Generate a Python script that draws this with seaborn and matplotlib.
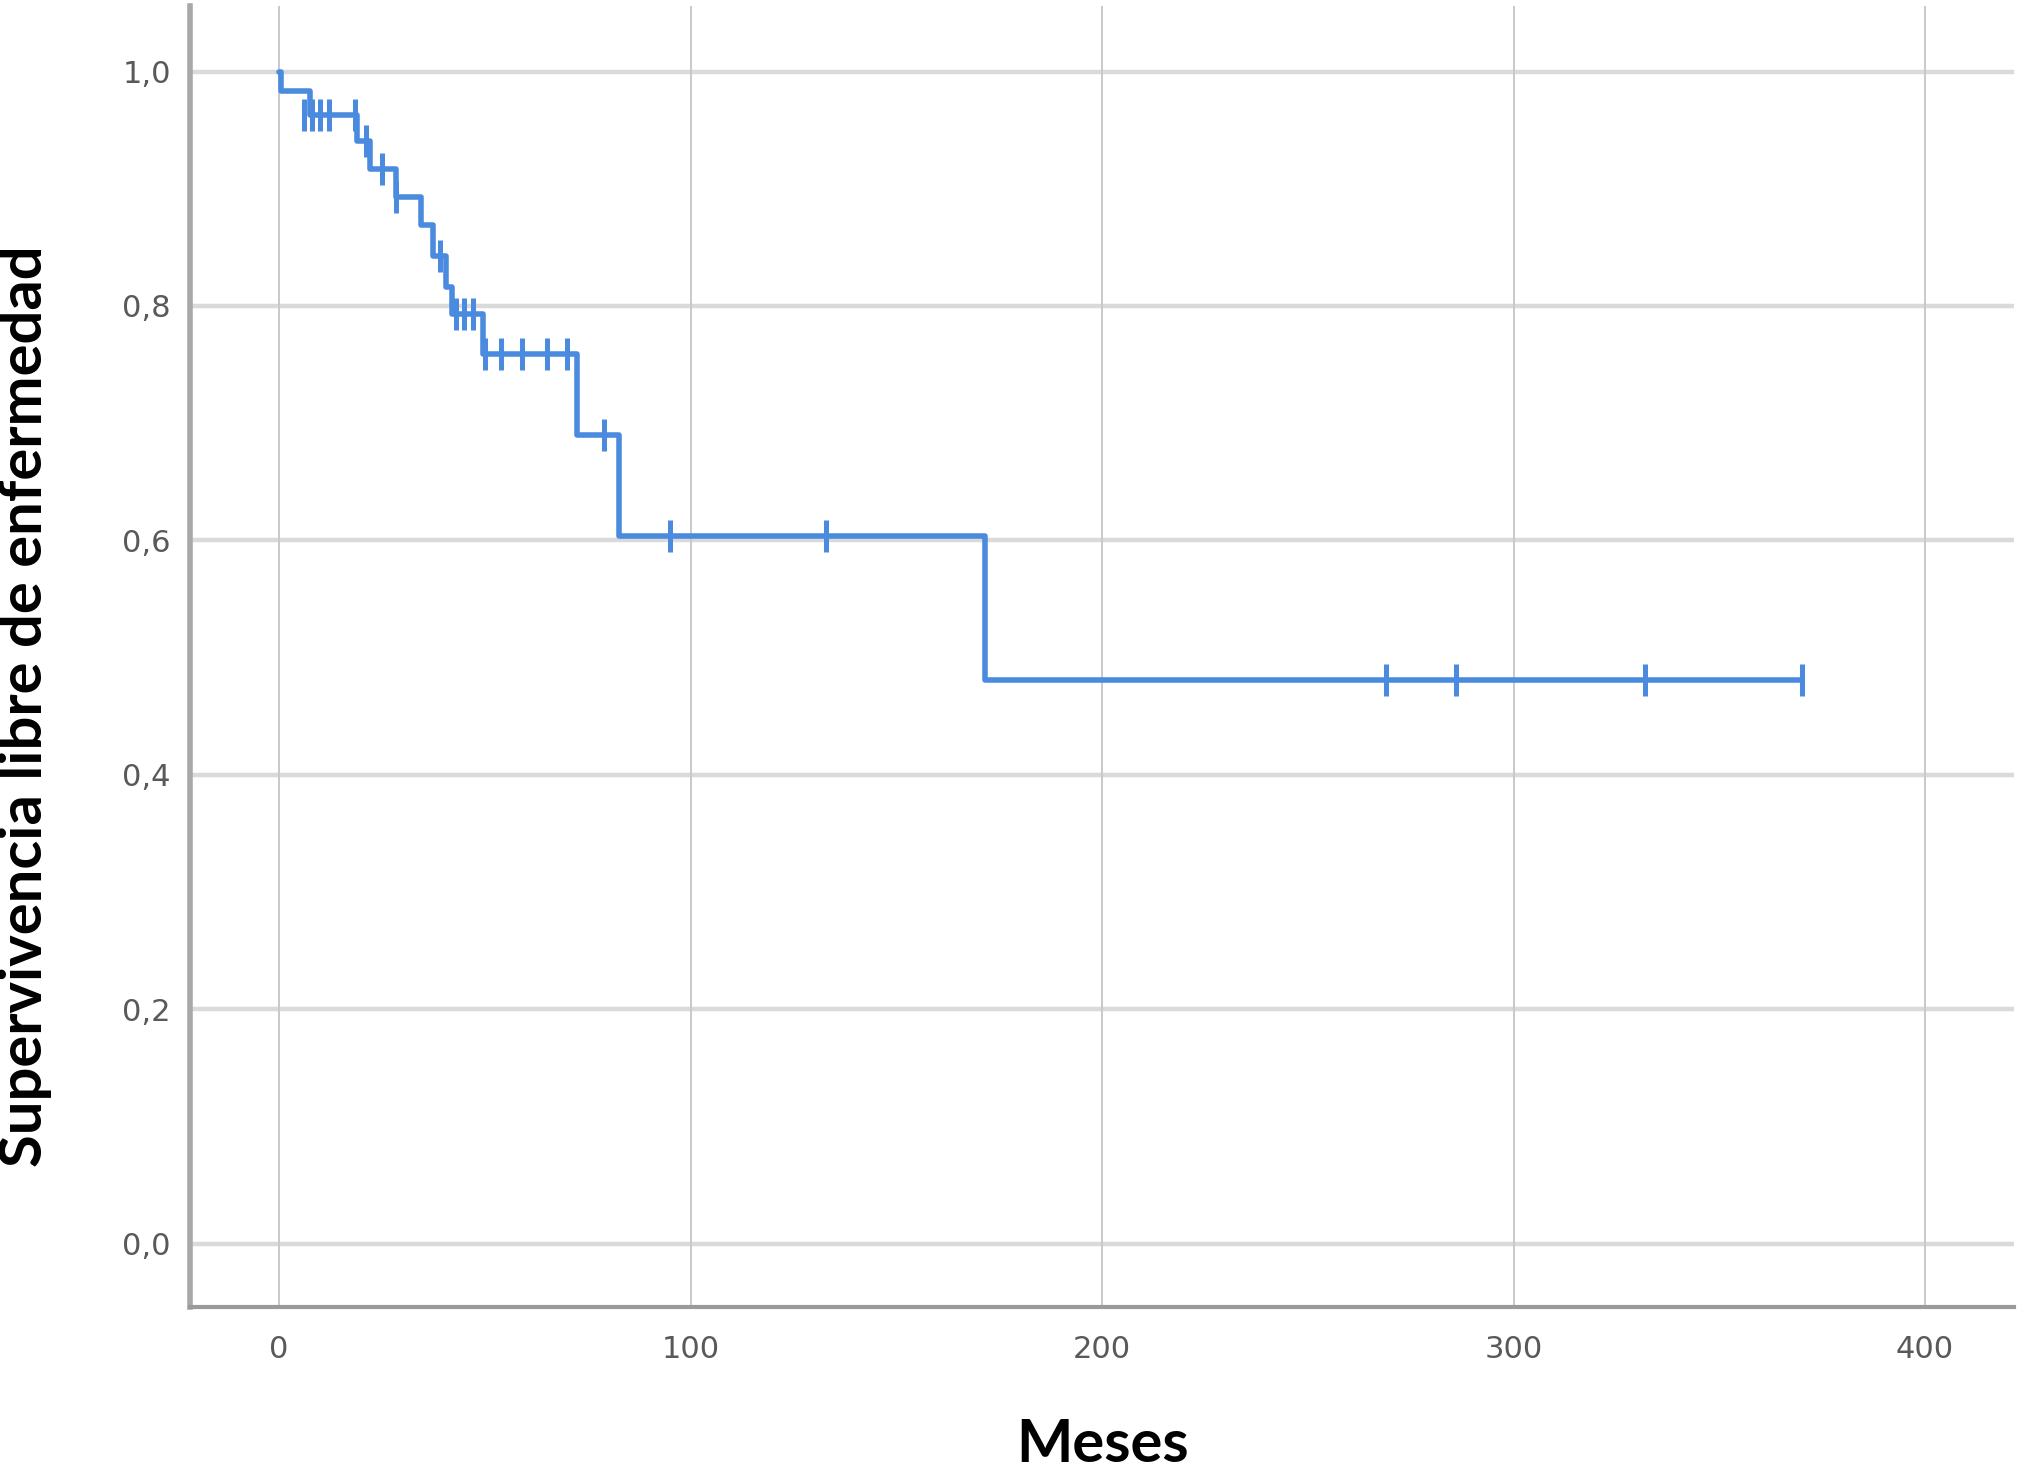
import numpy as np
import pandas as pd
import matplotlib
matplotlib.use("Agg")
import matplotlib.pyplot as plt
import seaborn as sns
from matplotlib.ticker import FuncFormatter

# Kaplan-Meier step data (time in months, survival after the event)
event_times = [0, 0.5, 7.5, 19, 22, 28.5, 34.5, 37.5, 40.5, 42, 49.5, 72.5, 82.5, 171.5, 370]
event_surv = [1.0, 0.983, 0.963, 0.941, 0.917, 0.893, 0.869, 0.843, 0.816, 0.793, 0.759, 0.690, 0.604, 0.481, 0.481]

# Censored observations
censor_times = [6, 8, 10, 12, 18.5, 21, 25, 28.5, 39, 43, 45, 47, 50, 54, 59, 65, 70, 79, 95, 133, 269, 286, 332, 370]
censor_surv = [0.963, 0.963, 0.963, 0.963, 0.963, 0.941, 0.917, 0.893, 0.843, 0.793, 0.793, 0.793,
               0.759, 0.759, 0.759, 0.759, 0.759, 0.690, 0.604, 0.604, 0.481, 0.481, 0.481, 0.481]

x_ticks = [0, 100, 200, 300, 400]
y_ticks = [0.0, 0.2, 0.4, 0.6, 0.8, 1.0]
x_label = "Meses"
y_label = "Supervivencia libre de enfermedad"

curve = pd.DataFrame({"t": event_times, "s": event_surv})
cens = pd.DataFrame({"t": censor_times, "s": censor_surv})

sns.set_theme(style="white")
plt.rcParams["font.family"] = ["DejaVu Sans"]

fig = plt.figure(figsize=(20.24, 14.72), dpi=100)
ax = fig.add_axes([0.094, 0.112, 0.901, 0.884])

blue = "#4a8be0"
sns.lineplot(data=curve, x="t", y="s", ax=ax, drawstyle="steps-post",
             estimator=None, sort=False, color=blue, linewidth=4.0, zorder=3)
sns.scatterplot(data=cens, x="t", y="s", ax=ax, marker="|", s=520,
                color=blue, linewidth=3.6, zorder=4)

ax.set_xlim(-21.6, 421.6)
ax.set_ylim(-0.054, 1.056)
ax.set_xticks(x_ticks)
ax.set_yticks(y_ticks)
ax.yaxis.set_major_formatter(FuncFormatter(lambda v, p: f"{v:.1f}".replace(".", ",")))
ax.xaxis.set_major_formatter(FuncFormatter(lambda v, p: f"{int(v)}"))

# grid
for y in y_ticks:
    ax.axhline(y, color="#dadada", linewidth=3.2, zorder=1)
for x in x_ticks:
    ax.axvline(x, color="#c9c9c9", linewidth=1.4, zorder=1)

for side in ["top", "right"]:
    ax.spines[side].set_visible(False)
ax.spines["left"].set_color("#a8a8a8")
ax.spines["left"].set_linewidth(4.0)
ax.spines["bottom"].set_color("#9a9a9a")
ax.spines["bottom"].set_linewidth(3.0)

ax.tick_params(axis="both", length=0, labelsize=22, labelcolor="#595959")
ax.tick_params(axis="x", pad=20)
ax.tick_params(axis="y", pad=14)

ax.set_xlabel(x_label, fontsize=43, fontweight="bold", family=["Lato", "DejaVu Sans"], color="black")
ax.set_ylabel(y_label, fontsize=43, fontweight="bold", family=["Lato", "DejaVu Sans"], color="black")
ax.yaxis.set_label_coords(-0.076, 0.462)
ax.xaxis.set_label_coords(0.5, -0.085)

fig.savefig("out.png", dpi=100, facecolor="white")
